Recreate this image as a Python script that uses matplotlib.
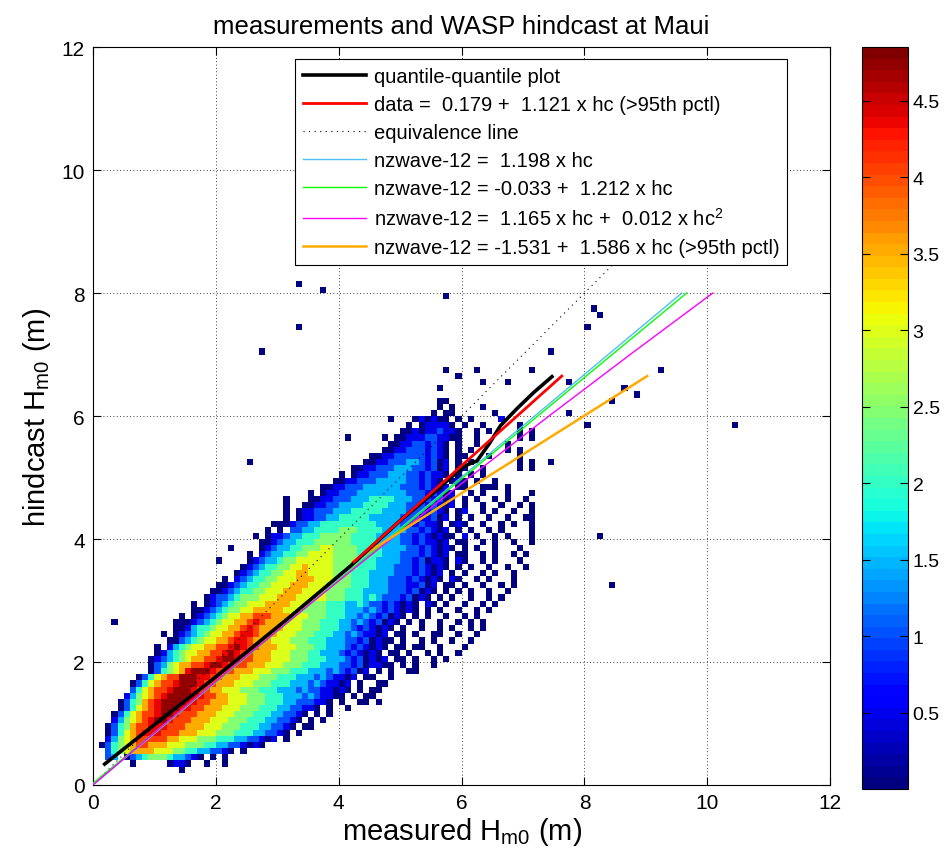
import numpy as np
import matplotlib
matplotlib.use('Agg')
import matplotlib.pyplot as plt
from matplotlib.colors import ListedColormap

plt.rcParams['font.family'] = ['Liberation Sans', 'DejaVu Sans']
plt.rcParams['mathtext.fontset'] = 'custom'
plt.rcParams['mathtext.rm'] = 'Liberation Sans'
plt.rcParams['mathtext.it'] = 'Liberation Sans:italic'
plt.rcParams['mathtext.bf'] = 'Liberation Sans:bold'

# 2-d histogram of log10(count), 0.1 m bins.
# one string per hindcast row (first row = 0.2-0.3 m), one char per measured bin
# '.' empty, '0'-'A' -> level codes, see level_of
bin_size = 0.1
first_row = 2
density_rows = [
    ".......... ....0.....",
    "......0... ..0110..0. .0",
    "..23.02345 55433210.0 .0",
    "..24567777 6665544332 210.0",
    ".024567887 7766655544 33221010",
    "..13567888 8877666555 4443322101 .0",
    "..02467899 9888777666 5554443322 10.0",
    "..02457889 9988877766 6555444332 210.00",
    "...1356789 AA98887776 6655544433 2210.0.0",
    "...0246788 9AA9888777 6665554443 32210.0.0",
    "....024678 9AAA998877 7666555444 3322110.0. .0",
    "....024578 9AAAA99887 7766655544 433222110. 0..00.0",
    ".....13567 89AAAA9988 7766655544 4333232110 0.0.00",
    "......2467 889AAA9887 7666555444 3332322110 10.0.00",
    "......0246 7889AAA988 7776665554 4433323211 01.0..00",
    ".......024 6788AAA998 8777666555 4443332321 101.00..0",
    ".........0 245679AAA9 8887776665 5544433323 21201.0.0. .00",
    ".........0 235677889A A988877766 6555444333 221201100. 0.0..0",
    ".........0 1234567788 9AA9887776 6655544433 32120101.0 0.0..0.0",
    ".......... 0134566778 89A9887776 6655544333 2121010.00 .0..0.0..0",
    ".......... 0.13456677 889A988777 6665554433 32121010.0 0.00..0... 0",
    ".......... ..00234566 7789987776 6655544433 322120100. 0..0.0..0. .0",
    ".......... .0.0123456 6778998777 6665554443 32321101.0 0.0..00..0 ..0",
    ".......... ...0013445 6677898777 7666555444 332121010. 0..0..0.0. .0.0",
    ".......... ...0001234 5667789877 7666555444 3323212010 .0.0..0..0 .0.0",
    ".......... ....0.0123 4566778887 7766655544 4332321201 0.0.0..0.. 0.0",
    ".......... ......0012 3455667777 7666555544 4333232121 010.0.0..0 ..0.0",
    ".......... ......0.01 2345566677 7766655544 4334322121 010.10.0.. 0..0.0",
    ".......... ........01 2234555666 7776666655 5444343222 12010.0.0. .0..0.0",
    ".......... .........0 0123445566 6777666655 5444333322 212010.0.0 .0..0..0",
    ".......... .......... 0012344556 6677766655 5544433322 211201.00. 0..0..0.0",
    ".......... .......... .0.1234455 6667776665 5544433322 2121010.10 ..0.0...0",
    ".......... .......... ...0123445 5667766665 5544433332 2212101.0. 0..0.0..0.",
    ".......... .......... ....012344 5566766665 5554443332 22121010.0 .0..0..0.. 0",
    ".......... .......... 0....01233 4556666665 5554443333 22120110.1 0..0.0...0",
    ".......... .......... .....0.123 3445566665 5554444333 22212101.0 0..0.0..0. 0",
    ".......... .......... ..0....012 3344555665 5554444333 322121010. 0.0..0...0",
    ".......... .......... .......001 2334445555 5544443333 22121101.0 0..0.0..0. .0",
    ".......... .......... ......0.01 1233444555 5544443333 221210100. 1.0..0.0.. .0",
    ".......... .......... ........0. 0.22334444 5554444333 32212101.0 .0..0.0... .0",
    ".......... .......... .........0 0012233444 4444443333 2212110.01 0..0..0.0. .0",
    ".......... .......... .......... .0.0112233 4444433333 22211201.0 .0..0..0.. 00",
    ".......... .......... .......... .0.0112223 3344444333 32221210.0 1..0.0..0. .0",
    ".......... .......... .......... .0..001122 3333444433 322212101. 0..0..0..0 .0",
    ".......... .......... .......... .0...00112 2233344443 332221201. 0.0..0.0.. 0",
    ".......... .......... .......... .....0.011 2223333333 322212101. .0.0...0.. .0",
    ".......... .......... .......... .......001 1222333333 22212101.0 0..000.0..",
    ".......... .......... .......... .........0 0112223333 3221210.01 0.0..0....",
    ".......... .......... .......... .......... 0.01122233 32212110.0 .0.0",
    ".......... .......... .......... .......... ..00112223 33221201.0 0..0.....0 .0",
    ".......... .......... .....0.... .......... ....001122 23321201.0 .0.......0 .0..0",
    ".......... .......... .......... .......... .....00112 22221210.0 0...0....0",
    ".......... .......... .......... .......... .......001 12221210.0 .0.....0.0",
    ".......... .......... .......... .......... ........00 11221210.0 ..0....0..",
    ".......... .......... .......... .......... .0.....0.0 0111221100 ..0......0 .0",
    ".......... .......... .......... .......... .......... 0010112110 ..0.0....0 .0",
    ".......... .......... .......... .......... .......... .0.011110. 0..0.....0",
    ".......... .......... .......... .......... ........0. ..010100.0 .0....1...",
    ".......... .......... .......... .......... .......... .....0.00. .....0.... .......0",
    ".......... .......... .......... .......... .......... ......0.0. ...0",
    ".......... .......... .......... .......... .......... ......00",
    "",
    ".......... .......... .......... .......... .......... ......0",
    ".......... .......... .......... .......... .......... .......... ...0...0.. .......0",
    ".......... .......... .......... .......... .......... .........0",
    ".......... .......... .......... .......... .......... .......0.. ..0....... .0",
]
level_of = {'0': 0.0, '1': 0.5, '2': 1.0, '3': 1.5, '4': 2.0, '5': 2.5,
            '6': 3.0, '7': 3.5, '8': 4.05, '9': 4.35, 'A': 4.72}

# single-count bins lying away from the main cloud (bin centres, m)
single_x = [0.35, 2.75, 3.35, 3.35, 3.75, 5.75, 7.45, 8.05, 8.15, 8.25,
            9.25, 8.65, 8.85, 8.45, 8.05, 10.45, 8.25, 8.45]
single_y = [2.65, 7.05, 8.15, 7.45, 8.05, 7.95, 7.05, 7.45, 7.75, 7.65,
            6.75, 6.45, 6.35, 6.25, 5.85, 5.85, 4.05, 3.25]

# quantile-quantile curve (measured, hindcast)
qq_x = [0.19, 1.0, 1.9, 2.56, 3.2, 3.75, 4.19, 5.0, 5.6, 6.03, 6.25, 6.45, 6.63, 6.9, 7.17, 7.47]
qq_y = [0.34, 0.98, 1.68, 2.21, 2.73, 3.19, 3.56, 4.3, 4.8, 5.18, 5.27, 5.55, 5.84, 6.12, 6.38, 6.64]

# fitted lines, end points
fit_data_x = [4.25, 7.63]
fit_data_y = [3.63, 6.65]
equiv_x = [0, 10]
equiv_y = [0, 10]
fit_lin_x = [0, 9.584]
fit_lin_y = [0, 8]
fit_off_x = [0, 9.663]
fit_off_y = [0.027, 8]
fit_quad_x = [0, 1.177, 2.378, 3.603, 4.852, 6.125, 7.422, 8.743, 10.088]
fit_quad_y = [0, 1, 2, 3, 4, 5, 6, 7, 8]
fit_tail_x = [4.23, 9.02]
fit_tail_y = [3.63, 6.65]

labels = [
    'quantile-quantile plot',
    'data =  0.179 +  1.121 x hc (>95th pctl)',
    'equivalence line',
    'nzwave-12 =  1.198 x hc',
    'nzwave-12 = -0.033 +  1.212 x hc',
    'nzwave-12 =  1.165 x hc +  0.012 x hc$^2$',
    'nzwave-12 = -1.531 +  1.586 x hc (>95th pctl)',
]
cbar_ticks = [0.5, 1, 1.5, 2, 2.5, 3, 3.5, 4, 4.5]
cbar_labels = ['0.5', '1', '1.5', '2', '2.5', '3', '3.5', '4', '4.5']
axis_ticks = [0, 2, 4, 6, 8, 10, 12]

# build the histogram grid
nx, ny = 110, 85
grid = np.full((ny, nx), np.nan)
for i, row in enumerate(density_rows):
    for j, ch in enumerate(row.replace(' ', '')):
        if ch != '.':
            grid[first_row + i, j] = level_of[ch]
for x, y in zip(single_x, single_y):
    grid[int(np.floor(y / bin_size)), int(np.floor(x / bin_size))] = 0.0
x_edges = np.arange(nx + 1) * bin_size
y_edges = np.arange(ny + 1) * bin_size

jet64 = ListedColormap(plt.get_cmap('jet')(np.linspace(0, 1, 64)))

fig = plt.figure(figsize=(9.44, 8.62), dpi=100)
ax = fig.add_axes([0.0985, 0.0882, 0.781, 0.856])
cax = fig.add_axes([0.913, 0.0835, 0.0487, 0.8608])

ax.set_axisbelow(True)
ax.grid(True, linestyle=(0, (1, 3)), color='black', linewidth=0.6)
mesh = ax.pcolormesh(x_edges, y_edges, np.ma.masked_invalid(grid),
                     cmap=jet64, vmin=0, vmax=4.85, zorder=1)

ax.plot(qq_x, qq_y, color='black', lw=2.6, label=labels[0], zorder=5)
ax.plot(fit_data_x, fit_data_y, color='red', lw=2.0, label=labels[1], zorder=6)
ax.plot(equiv_x, equiv_y, color='black', lw=0.8, linestyle=(0, (1, 4)), label=labels[2], zorder=3)
ax.plot(fit_lin_x, fit_lin_y, color='#50c0f0', lw=1.0, label=labels[3], zorder=4)
ax.plot(fit_off_x, fit_off_y, color='#00ff00', lw=1.0, label=labels[4], zorder=4)
ax.plot(fit_quad_x, fit_quad_y, color='#ff00ff', lw=1.0, label=labels[5], zorder=4)
ax.plot(fit_tail_x, fit_tail_y, color='#ffaa00', lw=1.8, label=labels[6], zorder=4)

ax.set_xlim(0, 12)
ax.set_ylim(0, 12)
ax.set_xticks(axis_ticks)
ax.set_yticks(axis_ticks)
ax.tick_params(direction='in', top=True, right=True, length=6, labelsize=15, pad=6)
for s in ax.spines.values():
    s.set_linewidth(0.8)

ax.set_title('measurements and WASP hindcast at Maui', fontsize=18.5, pad=10)
ax.set_xlabel(r'measured H$_{\mathrm{m0}}$ (m)', fontsize=21, labelpad=2)
ax.set_ylabel(r'hindcast H$_{\mathrm{m0}}$ (m)', fontsize=21, labelpad=6)

leg = ax.legend(loc='upper right', bbox_to_anchor=(0.942, 0.984), borderaxespad=0,
                fontsize=14.5, fancybox=False, framealpha=1, edgecolor='black',
                handlelength=3.1, labelspacing=0.45, borderpad=0.4, handletextpad=0.4)
leg.get_frame().set_linewidth(0.8)
leg.set_zorder(10)

cbar = fig.colorbar(mesh, cax=cax, ticks=cbar_ticks)
cbar.ax.set_yticklabels(cbar_labels)
cbar.ax.tick_params(direction='in', left=True, right=True, length=6, labelsize=14)
cbar.outline.set_linewidth(0.8)

fig.savefig('out.png', dpi=100)
plt.close(fig)
